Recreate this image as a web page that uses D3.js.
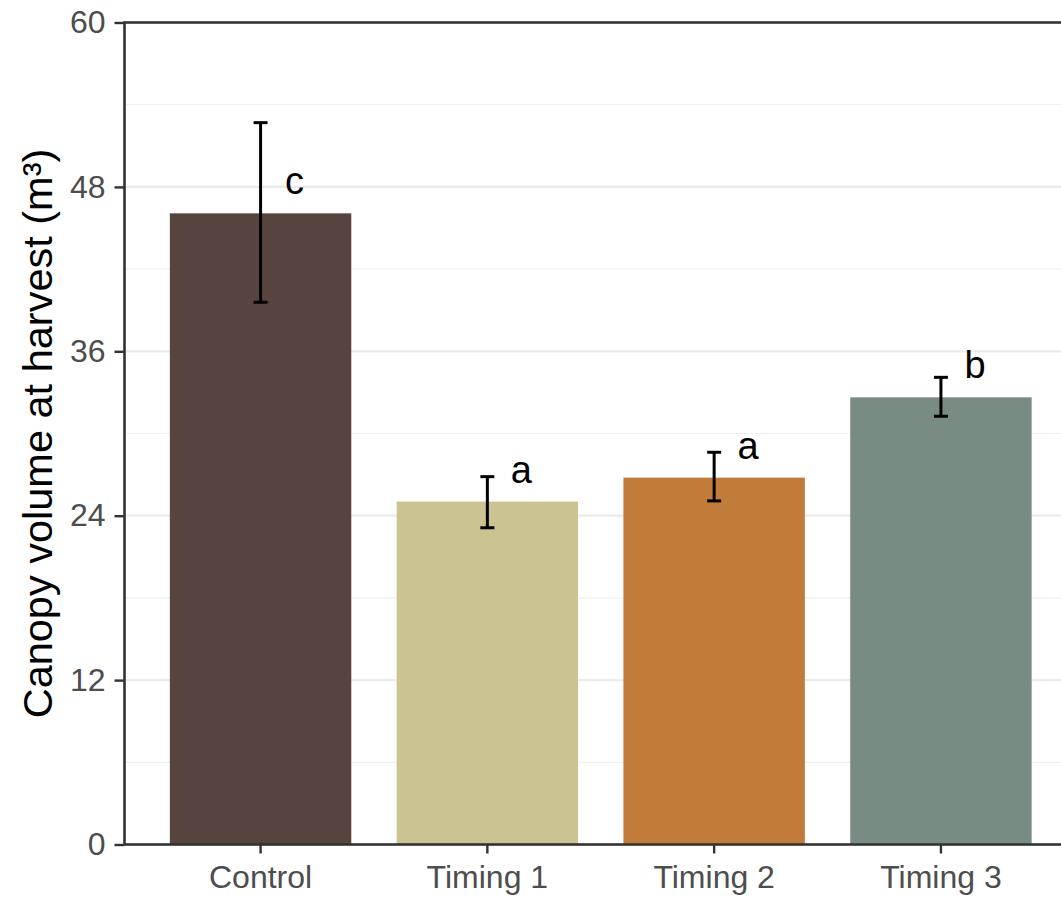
<!DOCTYPE html>
<html>
<head>
<meta charset="utf-8">
<script src="https://cdn.jsdelivr.net/npm/d3@7"></script>
<style>
  html, body { margin: 0; padding: 0; background: #fff; overflow: hidden; }
  svg { display: block; }
  text { font-family: "Liberation Sans", Arial, Helvetica, sans-serif; }
</style>
</head>
<body>
<svg id="chart" width="1061" height="897"></svg>
<script>
// ---- data ----
const categories = ["Control", "Timing 1", "Timing 2", "Timing 3"];
const means = [46.07, 25.03, 26.78, 32.64];
const errLow = [39.58, 23.12, 25.08, 31.26];
const errHigh = [52.69, 26.85, 28.63, 34.10];
const letters = ["c", "a", "a", "b"];
const colors = ["#57443f", "#cbc391", "#c17c3a", "#798c84"];
const yTicks = [0, 12, 24, 36, 48, 60];
const yMinor = [6, 18, 30, 42, 54];
const yTitle = "Canopy volume at harvest (m³)";

// ---- layout ----
const svg = d3.select("#chart");
const pLeft = 124.5, pRight = 1077, pTop = 22.5, pBottom = 844.5;

const x = d3.scaleBand().domain(categories).range([pLeft, pRight])
  .paddingInner(0.2).paddingOuter(0.2);
const y = d3.scaleLinear().domain([0, 60]).range([pBottom, pTop]);

// grid
const grid = svg.append("g");
grid.selectAll("line.minor").data(yMinor).join("line")
  .attr("x1", pLeft).attr("x2", pRight)
  .attr("y1", d => y(d)).attr("y2", d => y(d))
  .attr("stroke", "#f0f0f0").attr("stroke-width", 1.2);
grid.selectAll("line.major").data(yTicks.filter(d => d > 0 && d < 60)).join("line")
  .attr("x1", pLeft).attr("x2", pRight)
  .attr("y1", d => y(d)).attr("y2", d => y(d))
  .attr("stroke", "#ebebeb").attr("stroke-width", 2.2);

// bars
svg.append("g").selectAll("rect").data(categories).join("rect")
  .attr("x", d => x(d))
  .attr("width", x.bandwidth())
  .attr("y", (d, i) => y(means[i]))
  .attr("height", (d, i) => y(0) - y(means[i]))
  .attr("fill", (d, i) => colors[i]);

// error bars
const eb = svg.append("g").attr("stroke", "#000").attr("stroke-width", 3);
const cap = 7;
categories.forEach((c, i) => {
  const cx = x(c) + x.bandwidth() / 2;
  eb.append("line").attr("x1", cx).attr("x2", cx).attr("y1", y(errLow[i])).attr("y2", y(errHigh[i]));
  eb.append("line").attr("x1", cx - cap).attr("x2", cx + cap).attr("y1", y(errLow[i])).attr("y2", y(errLow[i]));
  eb.append("line").attr("x1", cx - cap).attr("x2", cx + cap).attr("y1", y(errHigh[i])).attr("y2", y(errHigh[i]));
});

// letters
svg.append("g").selectAll("text").data(categories).join("text")
  .attr("x", d => x(d) + x.bandwidth() / 2 + 0.15 * x.step())
  .attr("y", (d, i) => y(means[i]) - 19)
  .attr("text-anchor", "middle")
  .attr("font-size", 38)
  .attr("fill", "#000")
  .text((d, i) => letters[i]);

// axes
const yAxis = d3.axisLeft(y).tickValues(yTicks).tickSize(10).tickPadding(9).tickFormat(d3.format("d"));
const gy = svg.append("g").attr("transform", `translate(${pLeft},0)`).call(yAxis);
gy.select(".domain").remove();
gy.selectAll(".tick line").attr("stroke", "#333").attr("stroke-width", 2.4);
gy.selectAll(".tick text").attr("font-size", 32).attr("fill", "#4d4d4d")
  .attr("font-family", "'Liberation Sans', Arial, sans-serif");

const xAxis = d3.axisBottom(x).tickSize(9).tickPadding(12);
const gx = svg.append("g").attr("transform", `translate(0,${pBottom})`).call(xAxis);
gx.select(".domain").remove();
gx.selectAll(".tick line").attr("stroke", "#333").attr("stroke-width", 2.4);
gx.selectAll(".tick text").attr("font-size", 32).attr("fill", "#4d4d4d")
  .attr("font-family", "'Liberation Sans', Arial, sans-serif");

// panel border
svg.append("rect")
  .attr("x", pLeft).attr("y", pTop)
  .attr("width", pRight - pLeft).attr("height", pBottom - pTop)
  .attr("fill", "none").attr("stroke", "#333").attr("stroke-width", 2.6);

// y title
svg.append("text")
  .attr("transform", `translate(52,${(pTop + pBottom) / 2}) rotate(-90)`)
  .attr("text-anchor", "middle")
  .attr("font-size", 41.5)
  .attr("fill", "#000")
  .text(yTitle);
</script>
</body>
</html>
